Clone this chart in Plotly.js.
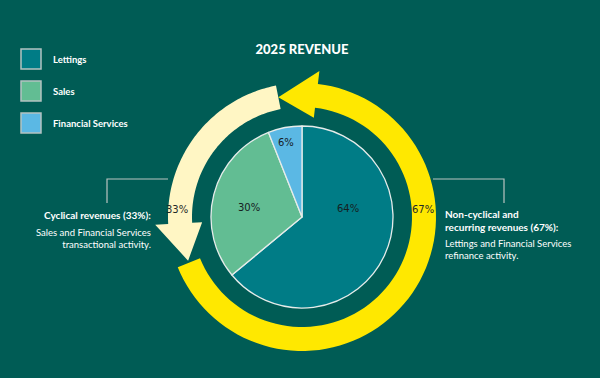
<!DOCTYPE html>
<html>
<head>
<meta charset="utf-8">
<script src="https://cdn.plot.ly/plotly-3.0.1.min.js"></script>
<style>html,body{margin:0;padding:0;background:#005c55;}#chart{width:600px;height:378px;}</style>
</head>
<body>
<div id="chart"></div>
<script>
// ---- data ----
const categories = ['Lettings', 'Sales', 'Financial Services'];
const values = [64, 30, 6];
const sliceColors = ['#007c86', '#62bd93', '#5bb8e4'];
const revenueShares = [67, 33]; // non-cyclical, cyclical
const revenueHeads = ['Non-cyclical and<br>recurring revenues (67%):', 'Cyclical revenues (33%):'];
const revenueNotes = ['Lettings and Financial Services<br>refinance activity.', 'Sales and Financial Services<br>transactional activity.'];
const arrowColors = ['#ffe800', '#fff6c4'];
const titleText = '2025 REVENUE';

// ---- layout geometry (pixels) ----
const W = 600, H = 378;
const cx = 302, cy = 217, pieR = 91;
const rIn = 110, rOut = 134, rMid = 122, headIn = 100, headOut = 147;
const headLen = 18, startAngle = 248;
const BG = '#005c55';
const textFont = 'Lato, "Open Sans", sans-serif';
// label placement inside slices: [angle offset from slice middle (deg), radius (px)]
const sliceLabelPlace = [[-36, 47], [-4, 54], [-1, 76]];

function pt(a, r) {
  const t = a * Math.PI / 180;
  return [cx + r * Math.sin(t), cy - r * Math.cos(t)];
}
function arrowPath(tail, bodySpan, hLen) {
  const hb = tail - bodySpan, tip = hb - hLen;
  const pts = [];
  const n = 80;
  for (let i = 0; i <= n; i++) pts.push(pt(tail - bodySpan * i / n, rOut));
  pts.push(pt(hb, headOut));
  pts.push(pt(tip, rMid));
  pts.push(pt(hb, headIn));
  for (let i = 0; i <= n; i++) pts.push(pt(hb + bodySpan * i / n, rIn));
  return 'M' + pts.map(p => p[0].toFixed(2) + ',' + p[1].toFixed(2)).join(' L') + ' Z';
}

const bigBody = revenueShares[0] / 100 * 360;
const bigTip = startAngle - bigBody - headLen;
const smallTotal = 360 - (bigBody + headLen) - 1;
const shapes = [
  {type: 'path', xref: 'x', yref: 'y', path: arrowPath(startAngle, bigBody, headLen), fillcolor: arrowColors[0], line: {width: 0}, layer: 'below'},
  {type: 'path', xref: 'x', yref: 'y', path: arrowPath(bigTip + 360, smallTotal - headLen, headLen), fillcolor: arrowColors[1], line: {width: 0}, layer: 'below'},
  {type: 'path', xref: 'x', yref: 'y', path: 'M107,203 L107,179 L168,179', line: {color: '#b9c3c1', width: 1.2}},
  {type: 'path', xref: 'x', yref: 'y', path: 'M433,179 L504,179 L504,203', line: {color: '#b9c3c1', width: 1.2}}
];

const annotations = [];
categories.forEach((c, i) => {
  shapes.push({type: 'rect', xref: 'x', yref: 'y', x0: 21, x1: 41, y0: 49 + 32 * i, y1: 69 + 32 * i,
    fillcolor: sliceColors[i], line: {color: '#b4c2c1', width: 1.5}});
  annotations.push({x: 51, y: 59 + 32 * i, xref: 'x', yref: 'y', text: c, showarrow: false,
    xanchor: 'left', yanchor: 'middle', font: {family: textFont, size: 9.5, color: '#ffffff', weight: 'bold'}});
});
const total = values.reduce((a, b) => a + b, 0);
let acc = 0;
values.forEach((v, i) => {
  const mid = (acc + v / 2) / total * 360;
  acc += v;
  const p = pt(mid + sliceLabelPlace[i][0], sliceLabelPlace[i][1]);
  annotations.push({x: p[0], y: p[1], xref: 'x', yref: 'y', text: Math.round(v / total * 100) + '%', showarrow: false,
    font: {family: 'DejaVu Sans, sans-serif', size: 10, color: '#16201f'}});
});
annotations.push({x: 443, y: 220, xref: 'x', yref: 'y', text: revenueHeads[0], showarrow: false, align: 'left',
  xanchor: 'left', yanchor: 'middle', font: {family: textFont, size: 10, color: '#ffffff', weight: 'bold'}});
annotations.push({x: 443, y: 249.5, xref: 'x', yref: 'y', text: revenueNotes[0], showarrow: false, align: 'left',
  xanchor: 'left', yanchor: 'middle', font: {family: textFont, size: 9.5, color: '#ffffff'}});
annotations.push({x: 153, y: 215, xref: 'x', yref: 'y', text: revenueHeads[1], showarrow: false, align: 'right',
  xanchor: 'right', yanchor: 'middle', font: {family: textFont, size: 10, color: '#ffffff', weight: 'bold'}});
annotations.push({x: 153, y: 238, xref: 'x', yref: 'y', text: revenueNotes[1], showarrow: false, align: 'right',
  xanchor: 'right', yanchor: 'middle', font: {family: textFont, size: 9.5, color: '#ffffff'}});
annotations.push({x: 423, y: 209, xref: 'x', yref: 'y', text: revenueShares[0] + '%', showarrow: false,
  font: {family: 'DejaVu Sans, sans-serif', size: 10, color: '#1f2a28'}});
annotations.push({x: 177, y: 209, xref: 'x', yref: 'y', text: revenueShares[1] + '%', showarrow: false,
  font: {family: 'DejaVu Sans, sans-serif', size: 10, color: '#1f2a28'}});

const trace = {
  type: 'pie', labels: categories, values: values, sort: false, direction: 'clockwise', rotation: 0,
  marker: {colors: sliceColors, line: {color: '#e6ecea', width: 1.3}},
  textinfo: 'none', hoverinfo: 'label+percent', showlegend: false,
  domain: {x: [(cx - pieR) / W, (cx + pieR) / W], y: [(H - cy - pieR) / H, (H - cy + pieR) / H]}
};

const layout = {
  width: W, height: H, margin: {l: 0, r: 0, t: 0, b: 0},
  paper_bgcolor: BG, plot_bgcolor: BG, showlegend: false,
  title: {text: titleText, x: 302 / W, xanchor: 'center', y: 1 - 49 / H, yanchor: 'middle',
    font: {family: 'Lato, sans-serif', size: 13, color: '#ffffff', weight: 900}},
  xaxis: {range: [0, W], visible: false, fixedrange: true},
  yaxis: {range: [H, 0], visible: false, fixedrange: true},
  shapes: shapes, annotations: annotations
};

Plotly.newPlot('chart', [trace], layout, {displayModeBar: false, staticPlot: true});
</script>
</body>
</html>
